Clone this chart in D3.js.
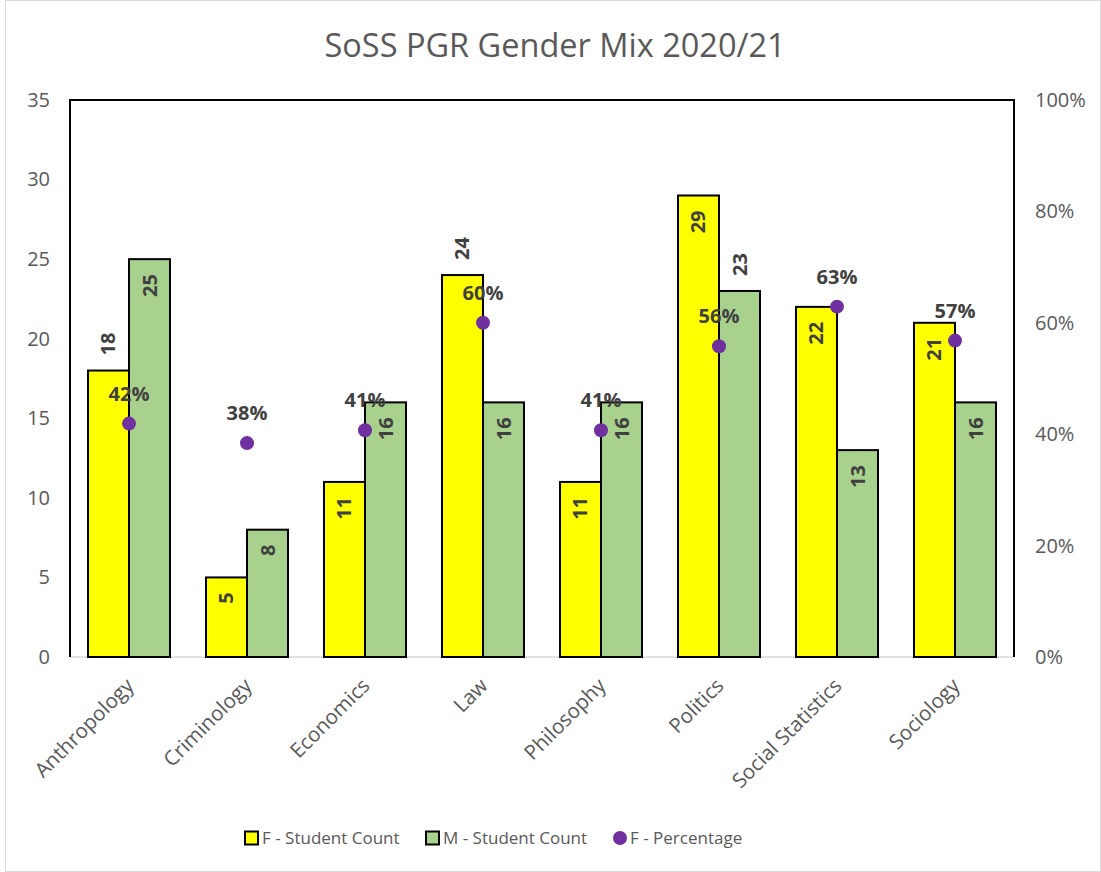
<!DOCTYPE html>
<html>
<head>
<meta charset="utf-8">
<script src="https://cdn.jsdelivr.net/npm/d3@7"></script>
<style>
  body { margin: 0; background: #fff; }
  svg { display: block; font-family: "Open Sans", "Noto Sans", sans-serif; }
</style>
</head>
<body>
<svg id="chart" width="1101" height="872"></svg>
<script>
// data
const categories = ['Anthropology', 'Criminology', 'Economics', 'Law', 'Philosophy', 'Politics', 'Social Statistics', 'Sociology'];
const femaleCount = [18, 5, 11, 24, 11, 29, 22, 21];
const maleCount = [25, 8, 16, 16, 16, 23, 13, 16];
const femalePct = [0.419, 0.384, 0.407, 0.60, 0.407, 0.558, 0.629, 0.568];
// which count labels sit above their bar instead of inside it
const femaleLabelOut = [true, false, false, true, false, false, false, false];
const maleLabelOut = [false, false, false, false, false, true, false, false];
const countTicks = [0, 5, 10, 15, 20, 25, 30, 35];
const pctTicks = [0, 0.2, 0.4, 0.6, 0.8, 1];

const svg = d3.select('#chart');
const W = 1101, H = 872;
const m = { top: 100, right: 87, bottom: 215, left: 70 };
const iw = W - m.left - m.right;
const ih = H - m.top - m.bottom;

const textGray = '#595959';
const labelGray = '#404040';
const fs = '20px';

// outer chart frame
svg.append('rect')
  .attr('x', 5.5).attr('y', 0.5)
  .attr('width', W - 6).attr('height', H - 1)
  .attr('fill', '#fff').attr('stroke', '#d9d9d9');

const g = svg.append('g').attr('transform', `translate(${m.left},${m.top})`);

const x = d3.scaleBand().domain(categories).range([0, iw]).paddingInner(0.305).paddingOuter(0.1525);
const xs = d3.scaleBand().domain(['F', 'M']).range([0, x.bandwidth()]);
const y = d3.scaleLinear().domain([0, 35]).range([ih, 0]);
const y2 = d3.scaleLinear().domain([0, 1]).range([ih, 0]);

// title
svg.append('text')
  .attr('x', 555).attr('y', 57)
  .attr('text-anchor', 'middle')
  .attr('fill', textGray)
  .style('font-size', '32.5px')
  .text('SoSS PGR Gender Mix 2020/21');

// axes
const yAxis = g.append('g').call(d3.axisLeft(y).tickValues(countTicks).tickSize(0).tickPadding(20));
const yAxis2 = g.append('g').attr('transform', `translate(${iw},0)`)
  .call(d3.axisRight(y2).tickValues(pctTicks).tickSize(0).tickPadding(21).tickFormat(d3.format('.0%')));
const xAxis = g.append('g').attr('transform', `translate(0,${ih})`)
  .call(d3.axisBottom(x).tickSize(0).tickPadding(0));

[yAxis, yAxis2, xAxis].forEach(a => {
  a.attr('font-family', null).attr('font-size', null);
  a.select('.domain').remove();
  a.selectAll('text').attr('fill', textGray).style('font-size', fs);
});

xAxis.selectAll('text')
  .style('font-size', '20.5px')
  .attr('text-anchor', 'end')
  .attr('dy', null)
  .attr('transform', 'translate(6,30) rotate(-45)');

// baseline
g.append('line')
  .attr('x1', 0).attr('x2', iw)
  .attr('y1', ih).attr('y2', ih)
  .attr('stroke', '#d9d9d9').attr('stroke-width', 1.5);

// bars
const series = [
  { key: 'F', values: femaleCount, out: femaleLabelOut, color: '#ffff00' },
  { key: 'M', values: maleCount, out: maleLabelOut, color: '#a9d18e' }
];

series.forEach(s => {
  const grp = g.append('g');
  grp.selectAll('rect')
    .data(categories)
    .enter()
    .append('rect')
    .attr('x', d => x(d) + xs(s.key))
    .attr('y', (d, i) => y(s.values[i]))
    .attr('width', xs.bandwidth())
    .attr('height', (d, i) => ih - y(s.values[i]))
    .attr('fill', s.color)
    .attr('stroke', '#000')
    .attr('stroke-width', 2);

  grp.selectAll('text')
    .data(categories)
    .enter()
    .append('text')
    .attr('transform', (d, i) => {
      const cx = x(d) + xs(s.key) + xs.bandwidth() / 2;
      const ty = s.out[i] ? y(s.values[i]) - 15 : y(s.values[i]) + 15;
      return `translate(${cx},${ty}) rotate(-90)`;
    })
    .attr('text-anchor', (d, i) => s.out[i] ? 'start' : 'end')
    .attr('dy', '0.35em')
    .attr('fill', labelGray)
    .style('font-size', fs)
    .style('font-weight', 'bold')
    .text((d, i) => s.values[i]);
});

// percentage points
const pts = g.append('g');
pts.selectAll('circle')
  .data(categories)
  .enter()
  .append('circle')
  .attr('cx', d => x(d) + x.bandwidth() / 2)
  .attr('cy', (d, i) => y2(femalePct[i]))
  .attr('r', 7)
  .attr('fill', '#7030a0');

pts.selectAll('text')
  .data(categories)
  .enter()
  .append('text')
  .attr('x', d => x(d) + x.bandwidth() / 2)
  .attr('y', (d, i) => y2(femalePct[i]) - 23)
  .attr('text-anchor', 'middle')
  .attr('fill', labelGray)
  .style('font-size', fs)
  .style('font-weight', 'bold')
  .text((d, i) => d3.format('.0%')(femalePct[i]));

// plot frame: left, top, right in black
g.append('path')
  .attr('d', `M0,${ih}V0H${iw}V${ih}`)
  .attr('fill', 'none')
  .attr('stroke', '#000')
  .attr('stroke-width', 2);

// legend
const legendItems = [
  { label: 'F - Student Count', type: 'rect', color: '#ffff00', x: 245 },
  { label: 'M - Student Count', type: 'rect', color: '#a9d18e', x: 426 },
  { label: 'F - Percentage', type: 'circle', color: '#7030a0', x: 613 }
];
const legend = svg.append('g').attr('transform', 'translate(0,838)');
legendItems.forEach(it => {
  if (it.type === 'rect') {
    legend.append('rect')
      .attr('x', it.x).attr('y', -6.5)
      .attr('width', 13).attr('height', 13)
      .attr('fill', it.color).attr('stroke', '#000').attr('stroke-width', 2);
  } else {
    legend.append('circle')
      .attr('cx', it.x + 7).attr('cy', 0).attr('r', 7)
      .attr('fill', it.color);
  }
  legend.append('text')
    .attr('x', it.x + 17).attr('y', 0)
    .attr('dy', '0.35em')
    .attr('fill', textGray)
    .style('font-size', '17px')
    .text(it.label);
});
</script>
</body>
</html>
